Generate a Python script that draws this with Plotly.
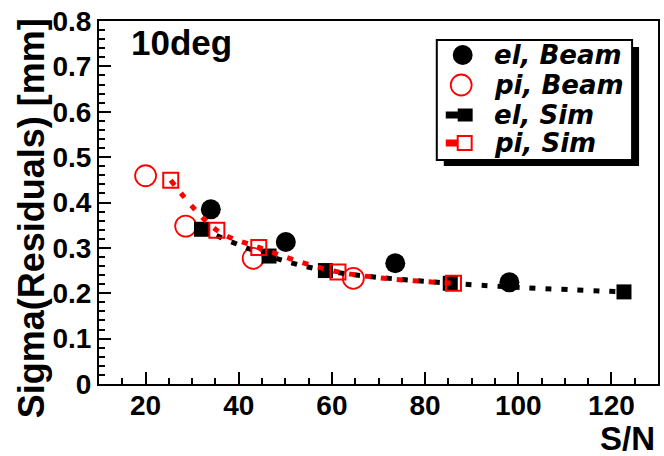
import plotly.graph_objects as go

# ---- data ----
el_beam_x = [34.0, 50.1, 73.6, 98.1]
el_beam_y = [0.385, 0.313, 0.266, 0.224]
pi_beam_x = [20.0, 28.6, 43.1, 64.6]
pi_beam_y = [0.459, 0.348, 0.277, 0.233]
el_sim_x = [32.0, 46.5, 58.6, 85.4, 122.7]
el_sim_y = [0.341, 0.282, 0.250, 0.222, 0.203]
pi_sim_x = [25.4, 35.3, 44.3, 61.3, 86.1]
pi_sim_y = [0.449, 0.339, 0.301, 0.247, 0.222]

legend_labels = ["el, Beam", "pi, Beam", "el, Sim", "pi, Sim"]
x_title = "S/N"
y_title = "Sigma(Residuals) [mm]"
panel_label = "10deg"

W, H = 664, 456
L, R, T, B = 99, 4, 21, 72
PW, PH = W - L - R, H - T - B


def px(xp):
    return (xp - L) / PW


def py(yp):
    return (H - B - yp) / PH


RED = "#ff0000"
FONT = "Liberation Sans, Arial, sans-serif"

fig = go.Figure()
fig.add_trace(go.Scatter(x=el_beam_x, y=el_beam_y, mode="markers",
                         marker=dict(symbol="circle", size=20, color="black"),
                         showlegend=False))
fig.add_trace(go.Scatter(x=pi_beam_x, y=pi_beam_y, mode="markers",
                         marker=dict(symbol="circle-open", size=21, color=RED,
                                     line=dict(width=1.8, color=RED)),
                         showlegend=False))
fig.add_trace(go.Scatter(x=el_sim_x, y=el_sim_y, mode="lines+markers",
                         line=dict(shape="spline", color="black", width=5, dash="6px,10px"),
                         marker=dict(symbol="square", size=15, color="black"),
                         showlegend=False))
fig.add_trace(go.Scatter(x=pi_sim_x, y=pi_sim_y, mode="lines+markers",
                         line=dict(shape="spline", color=RED, width=5, dash="6px,10px"),
                         marker=dict(symbol="square-open", size=15, color=RED,
                                     line=dict(width=2, color=RED)),
                         showlegend=False))

axis_common = dict(
    showline=True, linewidth=2, linecolor="black", mirror=True,
    showgrid=False, zeroline=False,
    ticks="inside", ticklen=12, tickwidth=2, tickcolor="black",
    tickfont=dict(family=FONT, size=28, color="black", weight="bold"),
)
fig.update_xaxes(range=[10, 130], tick0=0, dtick=20, ticklabelstandoff=-5,
                 minor=dict(dtick=5, ticks="inside", ticklen=6, tickwidth=2, tickcolor="black"),
                 **axis_common)
fig.update_yaxes(range=[0, 0.8], tick0=0, dtick=0.1,
                 minor=dict(dtick=0.02, ticks="inside", ticklen=6, tickwidth=2, tickcolor="black"),
                 **axis_common)

shapes = []
# legend shadow and box
shapes.append(dict(type="rect", xref="paper", yref="paper",
                   x0=px(445), x1=px(641), y0=py(166), y1=py(47),
                   fillcolor="black", line=dict(width=0)))
shapes.append(dict(type="rect", xref="paper", yref="paper",
                   x0=px(438), x1=px(634), y0=py(160), y1=py(40),
                   fillcolor="white", line=dict(width=2, color="black")))
row_y = [55, 85, 115, 143]
# legend keys
shapes.append(dict(type="circle", xref="paper", yref="paper",
                   x0=px(454), x1=px(474), y0=py(row_y[0] + 10), y1=py(row_y[0] - 10),
                   fillcolor="black", line=dict(width=0)))
shapes.append(dict(type="circle", xref="paper", yref="paper",
                   x0=px(452), x1=px(473), y0=py(row_y[1] + 10.5), y1=py(row_y[1] - 10.5),
                   fillcolor="rgba(0,0,0,0)", line=dict(width=1.8, color=RED)))
shapes.append(dict(type="rect", xref="paper", yref="paper",
                   x0=px(447), x1=px(460), y0=py(row_y[2] + 3.5), y1=py(row_y[2] - 3.5),
                   fillcolor="black", line=dict(width=0)))
shapes.append(dict(type="rect", xref="paper", yref="paper",
                   x0=px(459), x1=px(474), y0=py(row_y[2] + 6.5), y1=py(row_y[2] - 6.5),
                   fillcolor="black", line=dict(width=0)))
shapes.append(dict(type="rect", xref="paper", yref="paper",
                   x0=px(447), x1=px(460), y0=py(row_y[3] + 3.5), y1=py(row_y[3] - 3.5),
                   fillcolor=RED, line=dict(width=0)))
shapes.append(dict(type="rect", xref="paper", yref="paper",
                   x0=px(459), x1=px(473), y0=py(row_y[3] + 7), y1=py(row_y[3] - 7),
                   fillcolor="white", line=dict(width=2, color=RED)))

annotations = []
for lab, yy in zip(legend_labels, row_y):
    annotations.append(dict(text=lab, xref="paper", yref="paper", x=px(493), y=py(yy),
                            xanchor="left", yanchor="middle", showarrow=False,
                            font=dict(family="DejaVu Sans, sans-serif", size=26, color="black",
                                      weight="bold", style="italic")))
annotations.append(dict(text=panel_label, xref="paper", yref="paper", x=px(129), y=py(43),
                        xanchor="left", yanchor="middle", showarrow=False,
                        font=dict(family=FONT, size=35, color="black", weight="bold")))
annotations.append(dict(text=x_title, xref="paper", yref="paper", x=px(659), y=py(438),
                        xanchor="right", yanchor="middle", showarrow=False,
                        font=dict(family=FONT, size=33, color="black", weight="bold")))
annotations.append(dict(text=y_title, xref="paper", yref="paper", x=px(31), y=py(16),
                        xanchor="center", yanchor="top", textangle=-90, showarrow=False,
                        font=dict(family=FONT, size=36, color="black", weight="bold")))

fig.update_layout(width=W, height=H, margin=dict(l=L, r=R, t=T, b=B),
                  paper_bgcolor="white", plot_bgcolor="white",
                  shapes=shapes, annotations=annotations, showlegend=False)

fig.write_html("out.html")
